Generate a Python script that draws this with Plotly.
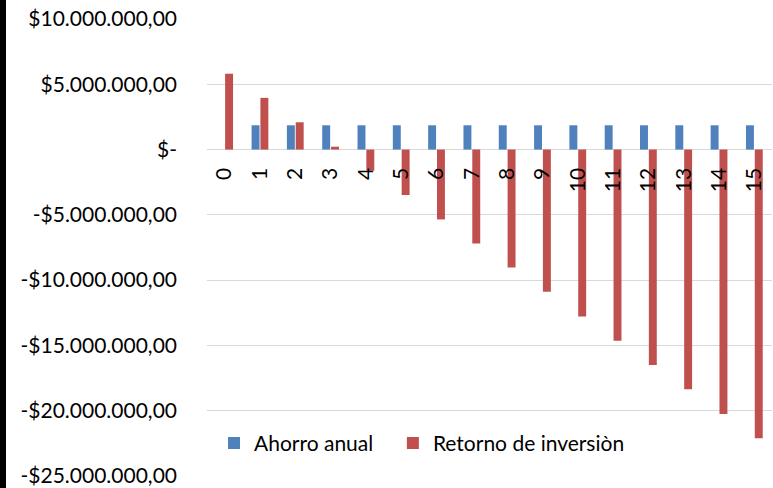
import plotly.graph_objects as go

categories = [str(i) for i in range(16)]
ahorro_anual = [0, 1.86e6, 1.86e6, 1.86e6, 1.86e6, 1.86e6, 1.86e6, 1.86e6,
                1.86e6, 1.86e6, 1.86e6, 1.86e6, 1.86e6, 1.86e6, 1.86e6, 1.86e6]
retorno_inversion = [5.81e6, 3.96e6, 2.09e6, 0.22e6, -1.62e6, -3.48e6, -5.35e6, -7.19e6,
                     -9.04e6, -10.88e6, -12.78e6, -14.65e6, -16.50e6, -18.35e6, -20.25e6, -22.10e6]
y_tick_vals = [10e6, 5e6, 0, -5e6, -10e6, -15e6, -20e6, -25e6]
y_tick_text = ["$10.000.000,00", "$5.000.000,00", "$-", "-$5.000.000,00",
               "-$10.000.000,00", "-$15.000.000,00", "-$20.000.000,00", "-$25.000.000,00"]

FONT = "Lato"
FS = 21
L = 207
PW = 773 - L - 1
fig = go.Figure()
fig.add_trace(go.Bar(x=categories, y=ahorro_anual, name="Ahorro anual", legend="legend",
                     marker=dict(color="#4F81BD", line=dict(width=0))))
fig.add_trace(go.Bar(x=categories, y=retorno_inversion, name="Retorno de inversiòn",
                     legend="legend2",
                     marker=dict(color="#C0504D", line=dict(width=0))))

leg_common = dict(orientation="h", xanchor="left", yanchor="middle", y=0.0716,
                  bgcolor="rgba(0,0,0,0)", font=dict(family=FONT, size=FS, color="black"))
fig.update_layout(
    width=773, height=488,
    margin=dict(l=L, r=1, t=19, b=12, autoexpand=False),
    paper_bgcolor="white", plot_bgcolor="white",
    barmode="group", bargap=0.5, bargroupgap=0.1,
    font=dict(family=FONT, size=FS, color="black"),
    showlegend=True,
    legend=dict(x=0.0124, **leg_common),
    legend2=dict(x=0.3290, **leg_common),
    shapes=[dict(type="rect", xref="paper", yref="paper",
                 x0=-(L + 2) / PW, x1=-(L - 6) / PW, y0=-0.05, y1=1.05,
                 fillcolor="black", line=dict(width=0), layer="above")],
)
fig.update_yaxes(range=[-25e6, 10e6], tickvals=y_tick_vals, ticktext=y_tick_text,
                 automargin=False,
                 showgrid=True, gridcolor="#D9D9D9", gridwidth=1,
                 zeroline=True, zerolinecolor="#D9D9D9", zerolinewidth=1,
                 showline=False, ticks="", ticklabelstandoff=29,
                 tickfont=dict(family=FONT, size=FS, color="black"))
fig.update_xaxes(type="category", anchor="free", position=25 / 35, automargin=False,
                 showgrid=False, showline=False, zeroline=False, ticks="",
                 tickangle=-90, ticklabelstandoff=13,
                 tickfont=dict(family=FONT, size=FS, color="black"))
fig.write_html("out.html", config={"displayModeBar": False},
               post_script="document.body.style.margin='0';")
